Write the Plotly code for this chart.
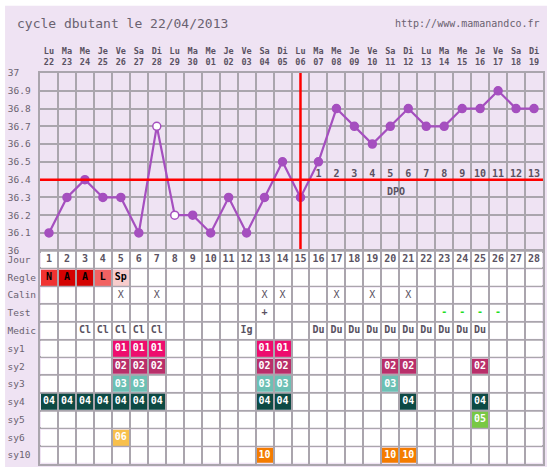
import plotly.graph_objects as go

# ---------------- data ----------------
days = list(range(1, 29))
weekdays = ["Lu", "Ma", "Me", "Je", "Ve", "Sa", "Di"] * 4
dates = ["22", "23", "24", "25", "26", "27", "28", "29", "30", "01", "02", "03", "04", "05",
         "06", "07", "08", "09", "10", "11", "12", "13", "14", "15", "16", "17", "18", "19"]
temps = [36.1, 36.3, 36.4, 36.3, 36.3, 36.1, 36.7, 36.2, 36.2, 36.1, 36.3, 36.1, 36.3, 36.5,
         36.3, 36.5, 36.8, 36.7, 36.6, 36.7, 36.8, 36.7, 36.7, 36.8, 36.8, 36.9, 36.8, 36.8]
excluded_days = [7, 8]
coverline = 36.4
ovulation_day = 15
dpo_days = list(range(16, 29))
dpo_labels = [str(i) for i in range(1, 14)]
temp_ticks = [36.0, 36.1, 36.2, 36.3, 36.4, 36.5, 36.6, 36.7, 36.8, 36.9, 37.0]
temp_ticktext = ["36", "36.1", "36.2", "36.3", "36.4", "36.5", "36.6", "36.7", "36.8", "36.9", "37"]

row_names = ["Jour", "Regle", "Calin", "Test", "Medic", "sy1", "sy2", "sy3", "sy4", "sy5", "sy6", "sy10"]
regle_days = [1, 2, 3, 4, 5]
regle_codes = ["N", "A", "A", "L", "Sp"]
calin_days = [5, 7, 13, 14, 17, 19, 21]
test_pos_days = [13]
test_neg_days = [23, 24, 25, 26]
medic_days = [3, 4, 5, 6, 7, 12, 16, 17, 18, 19, 20, 21, 22, 23, 24, 25]
medic_codes = ["Cl", "Cl", "Cl", "Cl", "Cl", "Ig", "Du", "Du", "Du", "Du", "Du", "Du", "Du", "Du", "Du", "Du"]
sy1_days = [5, 6, 7, 13, 14]
sy2_days = [5, 6, 7, 13, 14, 20, 21, 25]
sy3_days = [5, 6, 13, 14, 20]
sy4_days = [1, 2, 3, 4, 5, 6, 7, 13, 14, 21, 25]
sy5_days = [25]
sy6_days = [5]
sy10_days = [13, 20, 21]

# ---------------- styles ----------------
LAV = "#efe3f3"
GRID = "#aaa5ad"
TXT = "#5a5262"
LTXT = "#6a6270"
PURPLE = "#a54fbf"
FONT = "DejaVu Sans Mono"
cell_colors = {
    "empty": "#ffffff",
    "N": "#f03232", "A": "#d40202", "L": "#f26262", "Sp": "#f8cccc",
    "sy1": "#ee0c6e", "sy2": "#b92f6a", "sy3": "#6cc0b4", "sy4": "#0d4a44",
    "sy5": "#78c844", "sy6": "#f8c04c", "sy10": "#f47c00",
}
keys = list(cell_colors.keys())
n = len(keys)
colorscale = []
for k, key in enumerate(keys):
    colorscale.append([k / n, cell_colors[key]])
    colorscale.append([(k + 1) / n, cell_colors[key]])

# ---------------- table matrix ----------------
nrows = len(row_names)
z = [[0.5 for _ in days] for _ in range(nrows)]
tx, ty, tt, tc = [], [], [], []

for d in days:
    tx.append(d); ty.append(0); tt.append("<b>%d</b>" % d); tc.append(TXT)
for d, c in zip(regle_days, regle_codes):
    z[1][d - 1] = keys.index(c) + 0.5
    tx.append(d); ty.append(1); tt.append("<b>%s</b>" % c); tc.append("#000000")
for d in calin_days:
    tx.append(d); ty.append(2); tt.append("X"); tc.append(TXT)
for d in test_pos_days:
    tx.append(d); ty.append(3); tt.append("<b>+</b>"); tc.append(TXT)
for d in test_neg_days:
    tx.append(d); ty.append(3); tt.append("<b>-</b>"); tc.append("#22dd22")
for d, c in zip(medic_days, medic_codes):
    tx.append(d); ty.append(4); tt.append("<b>%s</b>" % c); tc.append(TXT)
sy_rows = [("sy1", sy1_days, "01"), ("sy2", sy2_days, "02"), ("sy3", sy3_days, "03"),
           ("sy4", sy4_days, "04"), ("sy5", sy5_days, "05"), ("sy6", sy6_days, "06"),
           ("sy10", sy10_days, "10")]
for name, ds, lab in sy_rows:
    r = row_names.index(name)
    for d in ds:
        z[r][d - 1] = keys.index(name) + 0.5
        tx.append(d); ty.append(r); tt.append("<b>%s</b>" % lab); tc.append("#ffffff")


def pad(s, w=5):
    return s + "\u00a0" * (w - len(s))


fig = go.Figure()

# ---------------- temperature chart ----------------
fig.add_trace(go.Scatter(
    x=days, y=temps, mode="lines+markers", xaxis="x", yaxis="y",
    line=dict(color=PURPLE, width=2.2),
    marker=dict(size=8, symbol="circle",
                color=["#ffffff" if d in excluded_days else PURPLE for d in days],
                line=dict(color=PURPLE, width=1.5)),
    hoverinfo="skip", showlegend=False))

fig.add_trace(go.Scatter(
    x=dpo_days, y=[coverline] * len(dpo_days), mode="text", text=["<b>%s</b>" % s for s in dpo_labels],
    textposition="top center", textfont=dict(family=FONT, size=10, color=TXT),
    xaxis="x", yaxis="y", hoverinfo="skip", showlegend=False, cliponaxis=False))

fig.add_trace(go.Scatter(
    x=[days[0] - 0.5, days[-1] + 0.5], y=[coverline, coverline], mode="lines",
    line=dict(color="#ff0000", width=2.5), xaxis="x", yaxis="y",
    hoverinfo="skip", showlegend=False))
fig.add_trace(go.Scatter(
    x=[ovulation_day, ovulation_day], y=[temp_ticks[0], temp_ticks[-1]], mode="lines",
    line=dict(color="#ff0000", width=2.5), xaxis="x", yaxis="y",
    hoverinfo="skip", showlegend=False))

# ---------------- table ----------------
fig.add_trace(go.Heatmap(
    x=days, y=list(range(nrows)), z=z, colorscale=colorscale, zmin=0, zmax=n,
    showscale=False, xgap=2, ygap=2, xaxis="x2", yaxis="y2", hoverinfo="skip"))

fig.add_trace(go.Scatter(
    x=tx, y=ty, text=tt, mode="text", textposition="middle center",
    textfont=dict(family=FONT, size=10, color=tc),
    xaxis="x2", yaxis="y2", hoverinfo="skip", showlegend=False))

split = 12 * 18 / 396.0
bounds = [d - 0.5 for d in days] + [days[-1] + 0.5]

fig.update_layout(
    width=551, height=475, autosize=False,
    margin=dict(l=40, r=7, t=73, b=6, pad=0),
    paper_bgcolor="#ffffff", plot_bgcolor="rgba(0,0,0,0)",
    font=dict(family=FONT, color=TXT),
    xaxis=dict(domain=[0, 1], anchor="y", side="top", range=[0.5, 28.5],
               tickmode="array", tickvals=days,
               ticktext=["%s<br>%s" % (w, d) for w, d in zip(weekdays, dates)],
               tickfont=dict(family=FONT, size=8.5, color=TXT, weight="bold"),
               ticklabelstandoff=3,
               showgrid=False, zeroline=False, ticks="", ticklen=0,
               showline=True, mirror=True, linecolor=GRID, linewidth=1.5,
               minor=dict(tickvals=bounds, showgrid=True, gridcolor=GRID, gridwidth=1.5, ticks="")),
    yaxis=dict(domain=[split, 1], anchor="x", range=[36, 37],
               tickmode="array", tickvals=temp_ticks, ticktext=[pad(s) for s in temp_ticktext],
               tickfont=dict(family=FONT, size=9.5, color=LTXT),
               showgrid=True, gridcolor=GRID, gridwidth=1.5, zeroline=False, ticks="",
               showline=True, mirror=True, linecolor=GRID, linewidth=1.5),
    xaxis2=dict(domain=[0, 1], anchor="y2", range=[0.5, 28.5], showticklabels=False,
                showgrid=False, zeroline=False, ticks="",
                showline=True, mirror=True, linecolor=GRID, linewidth=2,
                minor=dict(tickvals=bounds, showgrid=True, gridcolor=GRID, gridwidth=2, ticks="")),
    yaxis2=dict(domain=[0, split], anchor="x2", range=[nrows - 0.5, -0.5],
                tickmode="array", tickvals=list(range(nrows)), ticktext=[pad(s) for s in row_names],
                tickfont=dict(family=FONT, size=9.5, color=LTXT),
                showgrid=False, zeroline=False, ticks="",
                showline=True, mirror=True, linecolor=GRID, linewidth=2,
                minor=dict(tickvals=[i - 0.5 for i in range(nrows + 1)], showgrid=True,
                           gridcolor=GRID, gridwidth=2, ticks="")),
    shapes=[dict(type="rect", xref="paper", yref="paper",
                 x0=(5 - 40) / 504, x1=(548 - 40) / 504, y0=(469 - 472) / 396, y1=(469 - 5) / 396,
                 fillcolor=LAV, line=dict(width=0), layer="below")],
    annotations=[
        dict(text="cycle dbutant le 22/04/2013", xref="paper", yref="paper",
             x=(15 - 40) / 504, y=(469 - 23) / 396, xanchor="left", yanchor="middle",
             showarrow=False, font=dict(family=FONT, size=13, color=LTXT)),
        dict(text="http://www.mamanandco.fr", xref="paper", yref="paper",
             x=(543 - 40) / 504, y=(469 - 23) / 396, xanchor="right", yanchor="middle",
             showarrow=False, font=dict(family=FONT, size=10, color=LTXT)),
        dict(text="<b>DPO</b>", xref="x", yref="y", x=20.3, y=coverline, yshift=-12,
             showarrow=False, font=dict(family=FONT, size=10, color=TXT)),
    ],
)

fig.write_html("out.html", config={"displayModeBar": False},
               post_script="document.body.style.margin='0px';document.body.style.padding='0px';")
